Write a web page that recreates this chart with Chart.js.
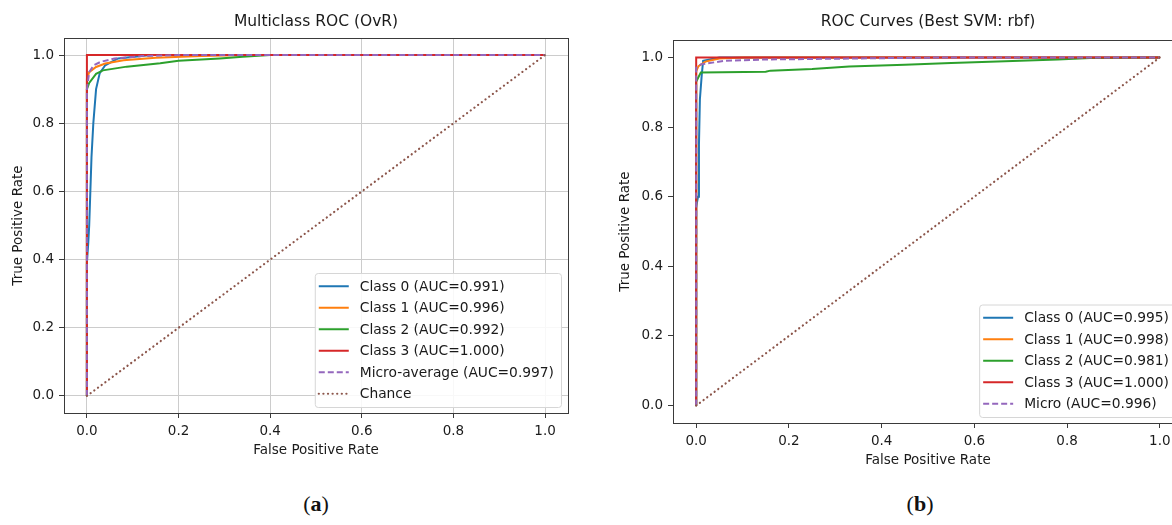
<!DOCTYPE html>
<html>
<head>
<meta charset="utf-8">
<script src="https://cdn.jsdelivr.net/npm/chart.js@4.4.1/dist/chart.umd.min.js"></script>
<style>
  html, body { margin: 0; padding: 0; background: #fff; }
  body { width: 1172px; height: 525px; overflow: hidden; position: relative; }
  canvas { position: absolute; top: 0; }
  #rocA { left: 0; }
  #rocB { left: 600px; }
  .cap { position: absolute; top: 491px; width: 60px; text-align: center;
         font: 22px "Liberation Serif", "DejaVu Serif", serif; color: #111; }
</style>
</head>
<body>
<canvas id="rocA" width="600" height="480"></canvas>
<canvas id="rocB" width="600" height="480"></canvas>
<div class="cap" style="left:286px">(<b>a</b>)</div>
<div class="cap" style="left:890px">(<b>b</b>)</div>
<script>
// ticks shared by both panels
const tickVals = [0, 0.2, 0.4, 0.6, 0.8, 1.0];

// panel (a): Multiclass ROC (OvR)
const labelsA = ['Class 0 (AUC=0.991)', 'Class 1 (AUC=0.996)', 'Class 2 (AUC=0.992)',
                 'Class 3 (AUC=1.000)', 'Micro-average (AUC=0.997)', 'Chance'];
const a0Fpr = [0, 0, 0.003, 0.005, 0.007, 0.01, 0.014, 0.02, 0.028, 0.04, 0.068, 0.14, 1];
const a0Tpr = [0, 0.39, 0.45, 0.5, 0.58, 0.7, 0.8, 0.9, 0.947, 0.97, 0.99, 1, 1];
const a1Fpr = [0, 0, 0.005, 0.02, 0.04, 0.08, 0.15, 0.25, 0.35, 1];
const a1Tpr = [0, 0.93, 0.95, 0.965, 0.975, 0.985, 0.992, 0.997, 1, 1];
const a2Fpr = [0, 0, 0.005, 0.02, 0.035, 0.087, 0.16, 0.2, 0.29, 0.34, 0.4, 1];
const a2Tpr = [0, 0.9, 0.918, 0.945, 0.955, 0.966, 0.976, 0.983, 0.99, 0.995, 1, 1];
const a3Fpr = [0, 0, 1];
const a3Tpr = [0, 1, 1];
const aMicroFpr = [0, 0, 0.005, 0.015, 0.03, 0.06, 0.12, 0.2, 1];
const aMicroTpr = [0, 0.9, 0.95, 0.97, 0.98, 0.99, 0.997, 1, 1];

// panel (b): ROC Curves (Best SVM: rbf) -- chance line is not in its legend
const labelsB = ['Class 0 (AUC=0.995)', 'Class 1 (AUC=0.998)', 'Class 2 (AUC=0.981)',
                 'Class 3 (AUC=1.000)', 'Micro (AUC=0.996)', ''];
const b0Fpr = [0, 0, 0.004, 0.006, 0.008, 0.012, 0.015, 0.05, 1];
const b0Tpr = [0, 0.57, 0.6, 0.75, 0.88, 0.95, 0.99, 1, 1];
const b1Fpr = [0, 0, 0.005, 0.02, 0.05, 0.1, 1];
const b1Tpr = [0, 0.96, 0.975, 0.988, 0.997, 1, 1];
const b2Fpr = [0, 0, 0.01, 0.15, 0.16, 0.25, 0.33, 0.45, 0.55, 0.65, 0.78, 0.85, 1];
const b2Tpr = [0, 0.93, 0.957, 0.959, 0.962, 0.967, 0.974, 0.979, 0.984, 0.988, 0.994, 0.998, 1];
const b3Fpr = [0, 0, 1];
const b3Tpr = [0, 1, 1];
const bMicroFpr = [0, 0, 0.01, 0.06, 0.15, 0.35, 0.55, 1];
const bMicroTpr = [0, 0.97, 0.98, 0.99, 0.994, 0.997, 1, 1];

const chanceFpr = [0, 1];
const chanceTpr = [0, 1];

const colors = ['#1f77b4', '#ff7f0e', '#2ca02c', '#d62728', '#9467bd', '#8c564b'];
const FONT = '"DejaVu Sans", "Liberation Sans", sans-serif';
const TEXT = '#1a1a1a';

function pts(xs, ys) {
  return xs.map((x, i) => ({ x: x, y: ys[i] }));
}

function buildSets(labels, curves) {
  return curves.map((c, i) => ({
    label: labels[i],
    data: pts(c[0], c[1]),
    showLine: true,
    borderColor: colors[i],
    backgroundColor: colors[i],
    borderWidth: i === 5 ? 2.2 : 2,
    borderDash: i === 4 ? [6, 3] : (i === 5 ? [0.1, 4.5] : []),
    borderCapStyle: i === 5 ? 'round' : 'butt',
    pointRadius: 0,
    order: 6 - i          // later curves on top, like matplotlib
  }));
}

// axes title centred over the plot, legend box bottom-right, frame
const axesDecor = {
  id: 'axesDecor',
  afterDatasetsDraw(chart) {
    const { ctx, chartArea: a } = chart;
    const ds = chart.data.datasets.filter(d => d.label);
    ctx.save();
    ctx.font = '13.8px ' + FONT;
    const tw = Math.max(...ds.map(d => ctx.measureText(d.label).width));
    const rowH = 21.5;
    const w = 44 + tw + 8;
    const h = ds.length * rowH + 5;
    const x = a.right - 7 - w;
    const y = a.bottom - 6 - h;
    ctx.beginPath();
    ctx.roundRect(x + 0.5, y + 0.5, w, h, 3);
    ctx.fillStyle = 'rgba(255,255,255,0.85)';
    ctx.fill();
    ctx.strokeStyle = '#d6d6d6';
    ctx.lineWidth = 1;
    ctx.stroke();
    ds.forEach((d, i) => {
      const cy = y + 2.5 + rowH * (i + 0.5);
      ctx.beginPath();
      ctx.setLineDash(d.borderDash);
      ctx.lineCap = d.borderCapStyle;
      ctx.lineWidth = d.borderWidth;
      ctx.strokeStyle = d.borderColor;
      ctx.moveTo(x + 4, cy);
      ctx.lineTo(x + 34, cy);
      ctx.stroke();
      ctx.setLineDash([]);
      ctx.fillStyle = TEXT;
      ctx.textBaseline = 'middle';
      ctx.fillText(d.label, x + 45, cy + 1);
    });
    ctx.restore();
  },
  afterDraw(chart) {
    const { ctx, chartArea: a } = chart;
    ctx.save();
    ctx.strokeStyle = '#3a3a3a';
    ctx.lineWidth = 1;
    ctx.strokeRect(Math.round(a.left) + 0.5, Math.round(a.top) + 0.5,
                   Math.round(a.right - a.left), Math.round(a.bottom - a.top));
    ctx.font = '15.5px ' + FONT;
    ctx.fillStyle = TEXT;
    ctx.textAlign = 'center';
    ctx.textBaseline = 'middle';
    ctx.fillText(chart.options.axesTitle, (a.left + a.right) / 2, 22);
    ctx.restore();
  }
};

function makeChart(id, title, labels, curves, opt) {
  return new Chart(document.getElementById(id), {
    type: 'scatter',
    data: { datasets: buildSets(labels, curves) },
    plugins: [axesDecor],
    options: {
      axesTitle: title,
      responsive: false,
      animation: false,
      layout: { padding: { left: 0, right: opt.padRight, top: opt.padTop, bottom: 0 } },
      plugins: {
        legend: { display: false },
        tooltip: { enabled: false },
        title: { display: false }
      },
      scales: {
        x: {
          type: 'linear', min: -0.05, max: 1.05,
          afterBuildTicks: s => { s.ticks = tickVals.map(v => ({ value: v })); },
          afterFit: s => { s.height = opt.xHeight; },
          grid: { display: true, drawOnChartArea: opt.grid, color: '#cccccc',
                  tickColor: '#3a3a3a', tickLength: 5, lineWidth: 1 },
          border: { display: false },
          ticks: { color: TEXT, padding: 5, maxRotation: 0,
                   font: { family: FONT, size: 13.5 },
                   callback: v => Number(v).toFixed(1) },
          title: { display: true, text: 'False Positive Rate', color: TEXT,
                   font: { family: FONT, size: 13.5 },
                   padding: { top: 0, bottom: opt.xTitlePad } }
        },
        y: {
          type: 'linear', min: -0.05, max: 1.05,
          afterBuildTicks: s => { s.ticks = tickVals.map(v => ({ value: v })); },
          afterFit: s => { s.width = opt.yWidth; },
          grid: { display: true, drawOnChartArea: opt.grid, color: '#cccccc',
                  tickColor: '#3a3a3a', tickLength: 5, lineWidth: 1 },
          border: { display: false },
          ticks: { color: TEXT, padding: 5,
                   font: { family: FONT, size: 13.5 },
                   callback: v => Number(v).toFixed(1) },
          title: { display: true, text: 'True Positive Rate', color: TEXT,
                   font: { family: FONT, size: 13.5 },
                   padding: { top: opt.yTitlePad, bottom: 0 } }
        }
      }
    }
  });
}

makeChart('rocA', 'Multiclass ROC (OvR)', labelsA, [
  [a0Fpr, a0Tpr], [a1Fpr, a1Tpr], [a2Fpr, a2Tpr], [a3Fpr, a3Tpr],
  [aMicroFpr, aMicroTpr], [chanceFpr, chanceTpr]
], { padRight: 32, padTop: 38, xHeight: 67, yWidth: 64, grid: true,
     xTitlePad: 21, yTitlePad: 10 });

makeChart('rocB', 'ROC Curves (Best SVM: rbf)', labelsB, [
  [b0Fpr, b0Tpr], [b1Fpr, b1Tpr], [b2Fpr, b2Tpr], [b3Fpr, b3Tpr],
  [bMicroFpr, bMicroTpr], [chanceFpr, chanceTpr]
], { padRight: 17, padTop: 40, xHeight: 57, yWidth: 73, grid: false,
     xTitlePad: 11, yTitlePad: 17 });
</script>
</body>
</html>
